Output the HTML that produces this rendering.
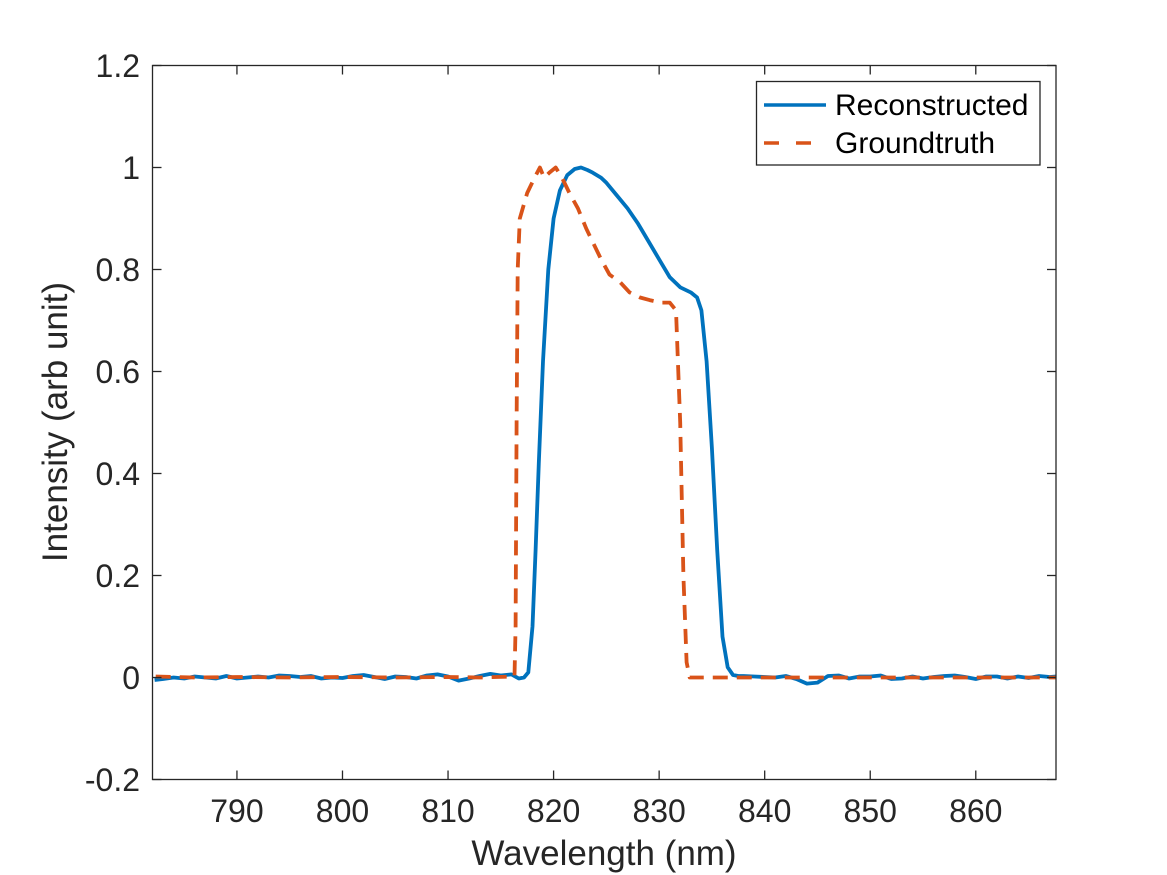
<!DOCTYPE html>
<html><head><meta charset="utf-8"><style>
body{margin:0;background:#fff}
svg{display:block;font-family:"Liberation Sans",Arial,sans-serif}
</style></head><body>
<svg id="chart" width="1167" height="875" viewBox="0 0 1167 875">
<rect width="1167" height="875" fill="#fff"/>
<g id="series"></g>
<rect x="152.5" y="65.5" width="903.5" height="714" fill="none" stroke="#262626" stroke-width="1.3"/>
<g id="ticks"></g>
<text x="604" y="865" font-size="35" fill="#262626" text-anchor="middle">Wavelength (nm)</text>
<text transform="translate(67,422) rotate(-90)" font-size="35" fill="#262626" text-anchor="middle">Intensity (arb unit)</text>
<g>
<rect x="756.5" y="81.5" width="283.5" height="83.5" fill="#fff" stroke="#262626" stroke-width="1.3"/>
<line x1="764" y1="105" x2="826" y2="105" stroke="#0072BD" stroke-width="3.5"/>
<text x="835" y="115" font-size="30" fill="#000">Reconstructed</text>
<line x1="764" y1="143" x2="826" y2="143" stroke="#D95319" stroke-width="3.5" stroke-dasharray="15,17"/>
<text x="835" y="153" font-size="30" fill="#000">Groundtruth</text>
</g>
</svg>
<script>
const xTicks=[790,800,810,820,830,840,850,860];
const yTicks=[-0.2,0,0.2,0.4,0.6,0.8,1,1.2];
const yTickLabels=["-0.2","0","0.2","0.4","0.6","0.8","1","1.2"];
const reconX=[782.2,783,784,785,786,787,788,789,790,791,792,793,794,795,796,797,798,799,800,801,802,803,804,805,806,807,808,809,810,811,812,813,814,815,816,816.7,817.2,817.6,818,818.3,818.6,819,819.5,820,820.6,821.3,822,822.6,823.2,823.7,824.5,825,826,827,828,829,830,831,832,833,833.6,834,834.5,835,835.5,836,836.5,837,837.5,838,839,840,841,842,843,844,845,846,847,848,849,850,851,852,853,854,855,856,857,858,859,860,861,862,863,864,865,866,867,867.6];
const reconY=[-0.005,-0.003,0,-0.002,0.002,0,-0.002,0.003,-0.002,0,0.002,0,0.004,0.003,0.001,0.003,-0.002,0,-0.001,0.003,0.005,0.001,-0.003,0.002,0.001,-0.002,0.004,0.006,0.002,-0.006,-0.002,0.003,0.007,0.004,0.006,-0.002,0,0.01,0.1,0.25,0.42,0.62,0.8,0.9,0.955,0.985,0.997,1.0,0.995,0.99,0.98,0.97,0.945,0.92,0.89,0.855,0.82,0.785,0.765,0.755,0.745,0.72,0.62,0.45,0.25,0.08,0.02,0.005,0.003,0.003,0.002,0.001,0,0.003,-0.003,-0.012,-0.01,0.003,0.004,-0.002,0.002,0.002,0.004,-0.003,-0.002,0.002,-0.002,0.001,0.003,0.004,0.001,-0.003,0.002,0.002,-0.002,0.002,-0.001,0.003,0.001,0.002];
const truthX=[782.3,786,790,795,800,805,810,813,816.3,816.4,816.5,816.6,816.8,817.5,818.2,818.7,819.1,819.6,820.2,820.8,821.5,822.3,823.1,823.8,824.5,825.3,826.3,827.2,828.2,829.1,830.2,831,831.6,832,832.3,832.6,832.9,840,850,860,867.6];
const truthY=[0.002,0,0.001,0,0.001,0,0.001,0,0.002,0.1,0.5,0.8,0.9,0.95,0.98,1.0,0.98,0.99,1.0,0.98,0.95,0.92,0.88,0.85,0.82,0.79,0.775,0.755,0.745,0.74,0.735,0.735,0.72,0.5,0.2,0.03,0,0,0,0,0];
const X0=782,X1=867.6,L=152.5,R=1056,T=65.5,B=779.5,Y0=-0.2,Y1=1.2;
const sx=v=>L+(v-X0)/(X1-X0)*(R-L);
const sy=v=>B-(v-Y0)/(Y1-Y0)*(B-T);
const NS="http://www.w3.org/2000/svg";
const tk=document.getElementById('ticks'),se=document.getElementById('series');
function mk(tag,attrs,parent){const e=document.createElementNS(NS,tag);for(const k in attrs)e.setAttribute(k,attrs[k]);parent.appendChild(e);return e;}
xTicks.forEach(v=>{const x=sx(v);
 let a=mk('line',{x1:x,y1:B,x2:x,y2:B-9,stroke:'#262626','stroke-width':1.3},tk);
 
 
 let b=mk('line',{x1:x,y1:T,x2:x,y2:T+9,stroke:'#262626','stroke-width':1.3},tk);
 
 
 let t=mk('text',{x:x,y:822,'font-size':32,fill:'#262626','text-anchor':'middle'},tk);t.textContent=v;
 
 
});
yTicks.forEach((v,i)=>{const y=sy(v);
 let a=mk('line',{x1:L,y1:y,x2:L+9,y2:y,stroke:'#262626','stroke-width':1.3},tk);
 
 
 let b=mk('line',{x1:R,y1:y,x2:R-9,y2:y,stroke:'#262626','stroke-width':1.3},tk);
 
 
 let t=mk('text',{x:140,y:y+11.5,'font-size':32,fill:'#262626','text-anchor':'end'},tk);t.textContent=yTickLabels[i];
 
 
});
const pts=(xs,ys)=>xs.map((x,i)=>sx(x).toFixed(1)+','+sy(ys[i]).toFixed(1)).join(' ');
const p1=mk('polyline',{points:pts(reconX,reconY),fill:'none',stroke:'#0072BD','stroke-width':3.8,'stroke-linejoin':'round'},se);


const p2=mk('polyline',{points:pts(truthX,truthY),fill:'none',stroke:'#D95319','stroke-width':3.8,'stroke-dasharray':'15,9','stroke-linejoin':'round'},se);


</script>
</body></html>
